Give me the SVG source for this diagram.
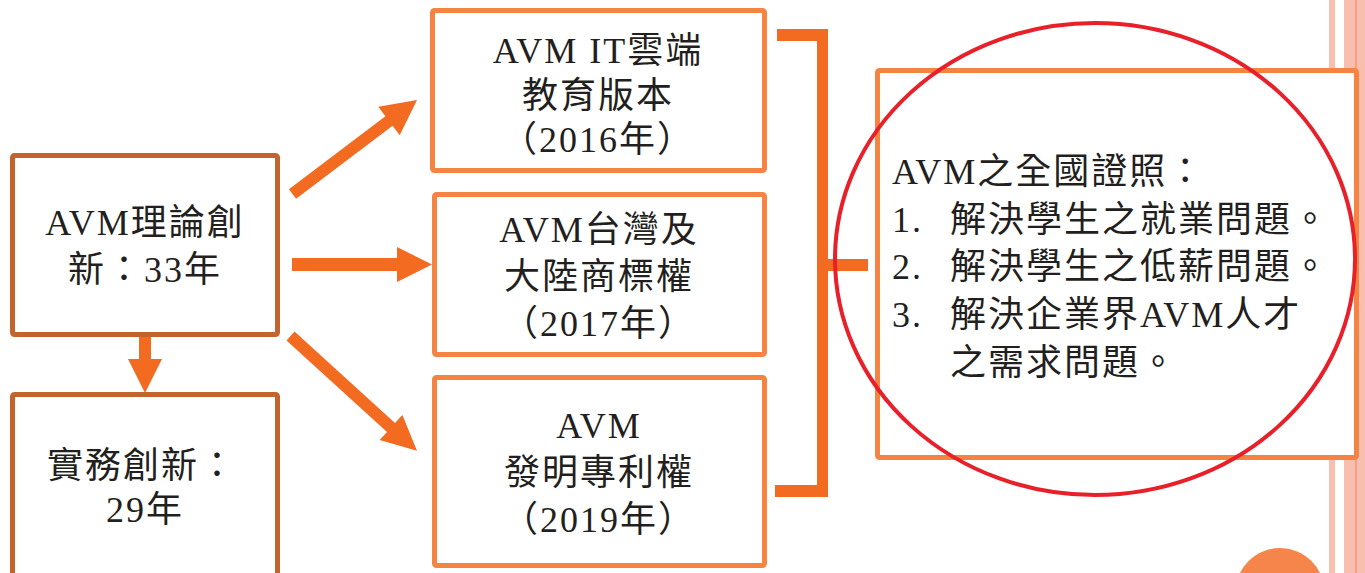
<svg xmlns="http://www.w3.org/2000/svg" width="1365" height="573" viewBox="0 0 1365 573">
  <style>
    .t { font-family: 'Liberation Serif', 'Noto Sans CJK TC', serif; font-size: 36px; fill: #231F20; letter-spacing: 2px; }
    .c { text-anchor: middle; }
    .boxL { fill: #FFFFFF; stroke: #C3642F; stroke-width: 5; }
    .boxM { fill: #FFFFFF; stroke: #F58442; stroke-width: 5; }
    .arr { fill: #F26B21; }
    .stripe { fill: #F9BFAE; }
  </style>
  <rect x="0" y="0" width="1365" height="573" fill="#FFFFFF"/>
  <g id="decor">
    <rect class="stripe" x="1329" y="0" width="6" height="573"/>
    <rect class="stripe" x="1344" y="0" width="11" height="573"/>
    <rect x="1355" y="0" width="2" height="573" fill="#F5A084"/>
    <rect class="stripe" x="1357" y="0" width="8" height="573"/>
    <circle cx="1280" cy="592.5" r="44.5" fill="#F5854A"/>
  </g>

  <g id="connectors">
    <polygon class="arr" points="139,336 151,336 151,359 162,359 145,393 128,359 139,359"/>
    <polygon class="arr" points="288.9,189.2 385.4,116.2 378.3,106.8 417,100 399.7,135.2 392.6,125.8 296.1,198.8"/>
    <polygon class="arr" points="292,258 397,258 397,247 432,264.5 397,282 397,271 292,271"/>
    <polygon class="arr" points="294.5,331.6 395,423.1 402.4,414.9 417,450.7 379.6,440.1 387,431.9 286.5,340.4"/>
    <rect class="arr" x="777" y="29" width="51" height="12"/>
    <rect class="arr" x="817" y="29" width="11" height="468"/>
    <rect class="arr" x="775" y="485" width="53" height="12"/>
    <rect class="arr" x="828" y="259" width="40" height="12"/>
  </g>

  <g id="node-theory">
    <rect class="boxL" x="12.5" y="155.5" width="265" height="179" rx="2"/>
    <text class="t c" x="145" y="235">AVM理論創</text>
    <text class="t c" x="145" y="282">新：33年</text>
  </g>

  <g id="node-practice">
    <rect class="boxL" x="12.5" y="394.5" width="265" height="200" rx="2"/>
    <text class="t c" x="142" y="478">實務創新：</text>
    <text class="t c" x="145" y="522">29年</text>
  </g>

  <g id="node-cloud">
    <rect class="boxM" x="432.5" y="10.5" width="332" height="160" rx="2"/>
    <text class="t c" x="598" y="63">AVM IT雲端</text>
    <text class="t c" x="598" y="108">教育版本</text>
    <text class="t c" x="598" y="152">（2016年）</text>
  </g>

  <g id="node-trademark">
    <rect class="boxM" x="434.5" y="194.5" width="330" height="160" rx="2"/>
    <text class="t c" x="599" y="242">AVM台灣及</text>
    <text class="t c" x="599" y="289">大陸商標權</text>
    <text class="t c" x="599" y="336">（2017年）</text>
  </g>

  <g id="node-patent">
    <rect class="boxM" x="434.5" y="377.5" width="330" height="188" rx="2"/>
    <text class="t c" x="599" y="438">AVM</text>
    <text class="t c" x="599" y="485">發明專利權</text>
    <text class="t c" x="599" y="532">（2019年）</text>
  </g>

  <g id="node-certificate">
    <rect class="boxM" x="877.5" y="70.5" width="479" height="387" rx="2"/>
    <text class="t" x="892" y="184">AVM之全國證照：</text>
    <text class="t" x="892" y="232">1.</text>
    <text class="t" x="950" y="232">解決學生之就業問題。</text>
    <text class="t" x="892" y="279">2.</text>
    <text class="t" x="950" y="279">解決學生之低薪問題。</text>
    <text class="t" x="892" y="327">3.</text>
    <text class="t" x="950" y="327">解決企業界AVM人才</text>
    <text class="t" x="950" y="375">之需求問題。</text>
  </g>

  <g id="highlight">
    <ellipse cx="1095" cy="259" rx="260" ry="236" fill="none" stroke="#E8202A" stroke-width="4"/>
  </g>
</svg>
